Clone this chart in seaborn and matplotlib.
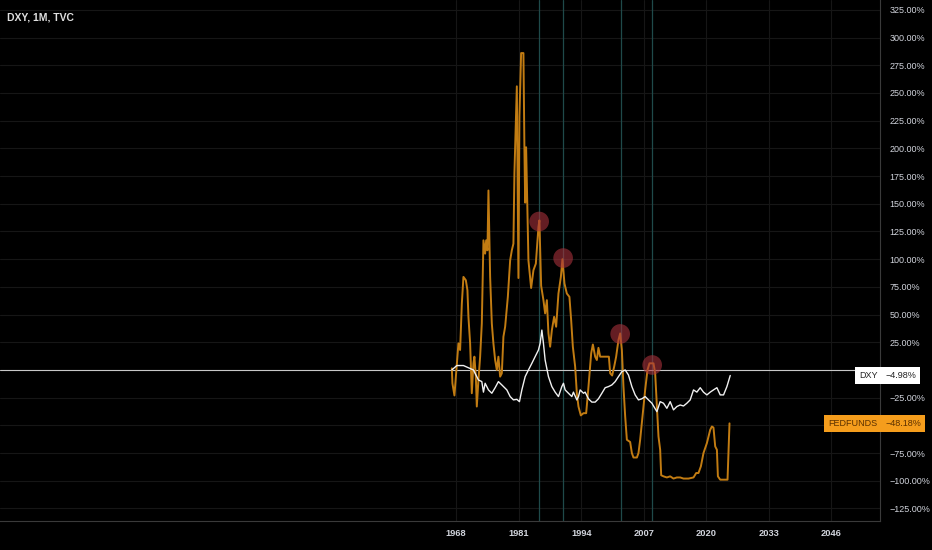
import matplotlib
matplotlib.use("Agg")
import matplotlib.pyplot as plt
import seaborn as sns

# FEDFUNDS, % change from first bar
fed_years = [1967.11, 1967.23, 1967.65, 1968.15, 1968.48, 1968.83, 1969.19, 1969.52, 1970.02, 1970.35,
             1970.56, 1970.91, 1971.26, 1971.60, 1971.80, 1972.10, 1972.30, 1972.64, 1972.99, 1973.34,
             1973.68, 1974.03, 1974.24, 1974.51, 1974.72, 1975.07, 1975.42, 1975.75, 1976.11, 1976.46,
             1976.79, 1977.15, 1977.50, 1977.83, 1978.19, 1978.75, 1979.23, 1979.58, 1979.91, 1980.12,
             1980.62, 1980.95, 1981.16, 1981.51, 1981.99, 1982.20, 1982.35, 1982.55, 1982.82, 1983.03,
             1983.59, 1984.07, 1984.57, 1985.11, 1985.31, 1985.67, 1986.15, 1986.50, 1986.86, 1987.19,
             1987.54, 1987.90, 1988.37, 1988.79, 1989.27, 1989.77, 1990.10, 1990.52, 1991.01, 1991.55,
             1991.91, 1992.26, 1992.74, 1993.09, 1993.43, 1993.92, 1994.47, 1995.03, 1995.51, 1996.07,
             1996.42, 1996.90, 1997.25, 1997.58, 1997.94, 1998.62, 1999.33, 1999.75, 2000.02, 2000.43,
             2000.85, 2001.26, 2001.74, 2002.10, 2002.45, 2002.78, 2003.14, 2003.49, 2004.17, 2004.53,
             2004.86, 2005.57, 2005.90, 2006.25, 2006.81, 2007.29, 2007.77, 2008.19, 2009.02, 2009.37,
             2009.73, 2010.06, 2010.41, 2010.62, 2011.10, 2011.80, 2012.49, 2013.18, 2013.88, 2014.57,
             2015.26, 2016.30, 2017.34, 2017.90, 2018.37, 2018.87, 2019.41, 2020.12, 2020.81, 2021.16,
             2021.49, 2021.85, 2022.20, 2022.41, 2022.89, 2023.93, 2024.41, 2024.62, 2024.82]
fed_pct = [1.5, -12, -23, 6, 24, 18, 60, 84, 81, 72,
           48, 24, -21, 6, 12, -6, -33, -9, 12, 42,
           117, 105, 117, 108, 162, 84, 42, 24, 9, 0,
           12, -6, -3, 30, 39, 66, 99, 108, 114, 178,
           256, 83, 229, 286, 286, 198, 151, 201, 142, 99,
           74, 90, 96, 129, 135, 76, 63, 51, 63, 33,
           21, 36, 48, 39, 69, 84, 100, 78, 69, 66,
           45, 21, 3, -21, -33, -41, -39, -39, -15, 15,
           23, 12, 9, 20, 12, 12, 12, 12, -3, -5,
           3, 12, 27, 33, 18, -15, -42, -63, -65, -75,
           -79, -79, -75, -63, -39, -18, 0, 6, 6, -3,
           -33, -60, -72, -95, -96, -97, -96, -98, -97, -97,
           -98, -98, -97, -93, -93, -87, -75, -66, -54, -51,
           -52, -69, -72, -96, -99, -99, -99, -72, -48.18]

# DXY, % change from first bar
dxy_years = [1967.11, 1968.15, 1969.52, 1971.60, 1972.64, 1973.34, 1973.68, 1974.03, 1974.72, 1975.42,
             1976.11, 1976.79, 1977.50, 1978.54, 1979.23, 1979.91, 1980.62, 1981.16, 1981.66, 1982.35,
             1983.03, 1983.74, 1984.42, 1985.11, 1985.46, 1985.82, 1986.15, 1986.50, 1987.19, 1987.90,
             1988.58, 1989.27, 1989.97, 1990.31, 1990.66, 1991.35, 1992.05, 1992.38, 1993.09, 1993.43,
             1993.78, 1994.47, 1994.82, 1995.51, 1996.21, 1996.90, 1997.58, 1998.29, 1998.98, 1999.66,
             2000.37, 2001.06, 2001.74, 2002.45, 2003.14, 2003.82, 2004.53, 2005.21, 2005.90, 2006.61,
             2007.29, 2007.98, 2008.69, 2009.73, 2010.41, 2011.10, 2011.80, 2012.49, 2013.18, 2013.88,
             2014.57, 2015.26, 2015.96, 2016.65, 2017.34, 2018.04, 2018.73, 2019.41, 2020.12, 2020.81,
             2021.49, 2022.20, 2022.89, 2023.58, 2024.28, 2024.97]
dxy_pct = [0, 4, 4, 0, -9, -10.5, -20, -12, -18, -21,
           -16, -10.5, -13.5, -18, -24, -27, -26.5, -28.6, -18, -6,
           0, 6, 12, 18, 24, 36, 24, 9, -6, -15,
           -20, -24, -15, -12, -18, -21, -24, -20, -27, -24,
           -18, -21, -20, -26, -29, -29, -26, -21, -16, -15,
           -13.5, -10.5, -6, -1.5, 0, -4.5, -15, -22.5, -27, -26,
           -24, -27, -30, -37.6, -28.6, -30, -34.6, -28.6, -36, -33,
           -31.6, -32.5, -30, -27, -18, -20, -16, -20, -22.5, -20,
           -18, -16, -22.5, -22.5, -15, -4.98]

# marked peaks and vertical markers
peak_years = [1985.26, 1990.24, 2002.10, 2008.75]
peak_pct = [134, 101, 32.5, 4.5]
vline_years = [1985.26, 1990.24, 2002.30, 2008.75]

x_ticks = [1968, 1981, 1994, 2007, 2020, 2033, 2046]
y_ticks = list(range(-125, 326, 25))
hidden_ticks = [0, -50]  # covered by the last-value tags

ORANGE = "#c27c12"
LABEL_ORANGE = "#f59d1c"
TXT = "#d1d4dc"

sns.set_style("dark")
plt.rcParams["font.family"] = ["Liberation Sans", "DejaVu Sans"]

fig = plt.figure(figsize=(9.32, 5.5), dpi=100, facecolor="black")
ax = fig.add_axes([0, 29 / 550, 880 / 932, 521 / 550])
ax.set_facecolor("black")

for y in y_ticks:
    ax.axhline(y, color="#161616", lw=0.8, zorder=0)
for x in x_ticks:
    ax.axvline(x, color="#161616", lw=0.8, zorder=0)
for x in vline_years:
    ax.axvline(x, color="#1f4a4a", lw=0.9, zorder=1)
ax.axhline(0, color="#c8c8c8", lw=0.8, zorder=2)

sns.lineplot(x=fed_years, y=fed_pct, ax=ax, color=ORANGE, lw=1.4, estimator=None, zorder=3)
sns.lineplot(x=dxy_years, y=dxy_pct, ax=ax, color="#f0f0f0", lw=1.0, estimator=None, zorder=4)
sns.scatterplot(x=peak_years, y=peak_pct, ax=ax, s=200, color="#a8323c", alpha=0.6,
                edgecolor="none", zorder=5)

ax.set_xlim(1873.2, 2056.1)
ax.set_ylim(-136.3, 333.9)

ax.yaxis.tick_right()
ax.set_yticks(y_ticks)
ax.set_yticklabels(["" if v in hidden_ticks else f"{v:.2f}%".replace("-", "\u2212") for v in y_ticks])
ax.set_xticks(x_ticks)
ax.set_xticklabels([str(v) for v in x_ticks])
ax.tick_params(axis="y", length=0, pad=7, labelsize=6.5, labelcolor=TXT)
ax.tick_params(axis="x", length=0, pad=6, labelsize=6.7, labelcolor=TXT)
for lab in ax.get_xticklabels():
    lab.set_fontweight("bold")
ax.grid(False)
ax.set_xlabel("")
ax.set_ylabel("")

for side in ["left", "top"]:
    ax.spines[side].set_visible(False)
for side in ["right", "bottom"]:
    ax.spines[side].set_color("#3a3a3a")
    ax.spines[side].set_linewidth(0.8)

# last value labels
def tag(name, value, y, bg, fg):
    ax.text(0.997, y, name, transform=ax.get_yaxis_transform(), ha="right", va="center",
            fontsize=6.5, color=fg, zorder=10, clip_on=False,
            bbox=dict(boxstyle="square,pad=0.45", fc=bg, ec="none"))
    ax.text(1.006, y, value, transform=ax.get_yaxis_transform(), ha="left", va="center",
            fontsize=6.5, color=fg, zorder=10, clip_on=False,
            bbox=dict(boxstyle="square,pad=0.45", fc=bg, ec="none"))

tag("DXY", "\u22124.98%", dxy_pct[-1], "white", "#222222")
tag("FEDFUNDS", "\u221248.18%", fed_pct[-1], LABEL_ORANGE, "#5a3000")

fig.text(7 / 932, 1 - 18 / 550, "DXY, 1M, TVC", color="#e0e0e0", fontsize=7.5,
         fontweight="bold", va="center", ha="left")

fig.savefig("out.png", dpi=100, facecolor="black")
